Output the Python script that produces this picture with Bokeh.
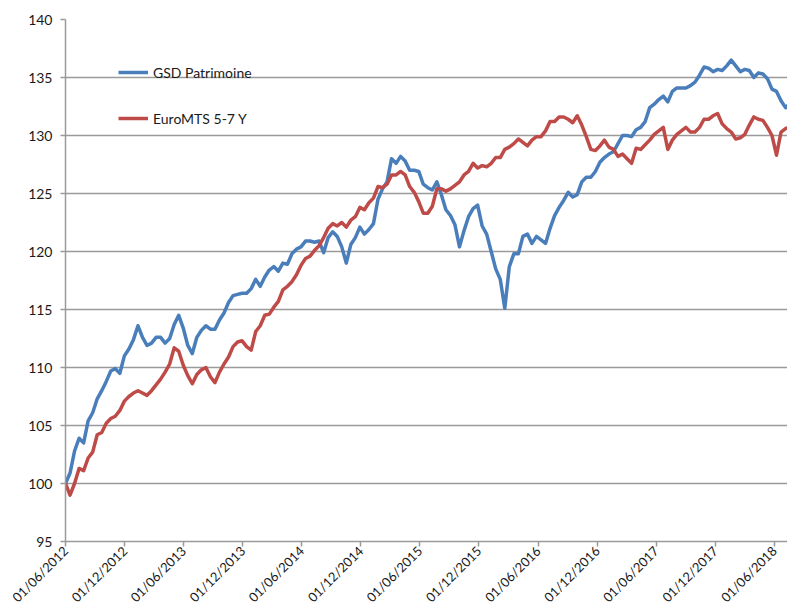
from math import pi
import pandas as pd
from bokeh.plotting import figure
from bokeh.models import (FixedTicker, DatetimeTickFormatter, Legend, LegendItem,
                          Range1d, SingleIntervalTicker)
from bokeh.embed import file_html
from bokeh.resources import INLINE

start_date = "2012-06-01"
step = "14D"
x_end = "2018-07-12"

gsd_patrimoine = [
    100.0, 100.9, 102.8, 103.9, 103.5, 105.4, 106.1, 107.3, 108.0, 108.8,
    109.7, 109.9, 109.5, 111.0, 111.6, 112.4, 113.6, 112.6, 111.9, 112.1,
    112.6, 112.6, 112.1, 112.5, 113.7, 114.5, 113.4, 111.9, 111.2, 112.6,
    113.2, 113.6, 113.3, 113.3, 114.1, 114.7, 115.6, 116.2, 116.3, 116.4,
    116.4, 116.8, 117.6, 117.0, 117.8, 118.4, 118.7, 118.3, 119.0, 118.9,
    119.8, 120.2, 120.4, 120.9, 120.9, 120.8, 120.9, 119.9, 121.2, 121.7,
    121.3, 120.4, 119.0, 120.6, 121.2, 122.1, 121.5, 121.9, 122.4, 124.5,
    125.4, 126.0, 128.0, 127.6, 128.2, 127.8, 127.0, 127.0, 126.9, 125.8,
    125.5, 125.3, 126.0, 124.9, 123.6, 123.1, 122.3, 120.4, 121.8, 123.0,
    123.7, 124.0, 122.2, 121.5, 120.0, 118.5, 117.6, 115.1, 118.7, 119.8,
    119.8, 121.3, 121.5, 120.7, 121.3, 121.0, 120.7, 122.0, 123.1, 123.8,
    124.4, 125.1, 124.7, 124.9, 126.0, 126.4, 126.4, 126.9, 127.7, 128.1,
    128.4, 128.6, 129.3, 130.0, 130.0, 129.9, 130.5, 130.7, 131.2, 132.4,
    132.7, 133.1, 133.4, 132.9, 133.8, 134.1, 134.1, 134.1, 134.3, 134.6,
    135.2, 135.9, 135.8, 135.5, 135.7, 135.6, 136.0, 136.5, 136.0, 135.5,
    135.7, 135.6, 135.0, 135.4, 135.3, 134.9, 134.0, 133.8, 133.0, 132.4,
    132.8,
]

euromts_5_7 = [
    100.0, 99.0, 100.0, 101.3, 101.1, 102.2, 102.7, 104.2, 104.4, 105.2,
    105.6, 105.8, 106.3, 107.1, 107.5, 107.8, 108.0, 107.8, 107.6, 108.0,
    108.5, 109.0, 109.6, 110.3, 111.7, 111.4, 110.2, 109.3, 108.6, 109.4,
    109.8, 110.0, 109.2, 108.7, 109.6, 110.3, 110.9, 111.8, 112.2, 112.3,
    111.8, 111.5, 113.1, 113.6, 114.5, 114.6, 115.2, 115.7, 116.7, 117.0,
    117.4, 118.0, 118.8, 119.4, 119.6, 120.1, 120.5, 121.2, 122.0, 122.4,
    122.2, 122.5, 122.1, 122.7, 123.0, 123.8, 123.6, 124.2, 124.6, 125.6,
    125.5, 125.8, 126.6, 126.6, 126.9, 126.6, 125.6, 125.1, 124.3, 123.3,
    123.3, 123.9, 125.4, 125.4, 125.2, 125.4, 125.7, 126.0, 126.6, 126.9,
    127.6, 127.2, 127.4, 127.3, 127.6, 128.1, 128.1, 128.8, 129.0, 129.3,
    129.7, 129.4, 129.1, 129.6, 129.9, 129.9, 130.4, 131.2, 131.2, 131.6,
    131.6, 131.4, 131.1, 131.7, 130.9, 129.9, 128.8, 128.7, 129.1, 129.6,
    129.0, 128.8, 128.2, 128.4, 128.0, 127.6, 128.9, 128.8, 129.2, 129.6,
    130.1, 130.4, 130.7, 128.8, 129.6, 130.1, 130.4, 130.7, 130.3, 130.3,
    130.7, 131.4, 131.4, 131.7, 131.9, 131.0, 130.6, 130.3, 129.7, 129.8,
    130.1, 130.9, 131.6, 131.4, 131.3, 130.7, 130.0, 128.3, 130.3, 130.6,
    130.7,
]

series_names = ["GSD Patrimoine", "EuroMTS 5-7 Y"]
series_colors = ["#4a7ebb", "#be4b48"]

tick_dates = ["2012-06-01", "2012-12-01", "2013-06-01", "2013-12-01",
              "2014-06-01", "2014-12-01", "2015-06-01", "2015-12-01",
              "2016-06-01", "2016-12-01", "2017-06-01", "2017-12-01",
              "2018-06-01"]
y_min, y_max, y_step = 95, 140, 5

# ---- figure ----
dates = pd.date_range(start_date, periods=len(gsd_patrimoine), freq=step)

FONT = "Lato"
TXT = "#1a1a1a"
GRID = "#9a9a9a"

p = figure(width=787, height=616, x_axis_type="datetime",
           x_range=Range1d(pd.Timestamp(start_date), pd.Timestamp(x_end)),
           y_range=Range1d(y_min, y_max),
           output_backend="svg", toolbar_location=None,
           min_border_left=65, min_border_right=0,
           min_border_top=19, min_border_bottom=75)

p.outline_line_color = None
p.background_fill_color = "white"
p.border_fill_color = "white"

r1 = p.line(dates, gsd_patrimoine, line_color=series_colors[0], line_width=3.5,
            line_join="round")
r2 = p.line(dates, euromts_5_7, line_color=series_colors[1], line_width=3.5,
            line_join="round")

# x axis
tick_ms = [pd.Timestamp(d).value / 1e6 for d in tick_dates]
p.xaxis.ticker = FixedTicker(ticks=tick_ms)
fmt = "%d/%m/%Y"
p.xaxis.formatter = DatetimeTickFormatter(
    milliseconds=fmt, seconds=fmt, minsec=fmt, minutes=fmt, hourmin=fmt,
    hours=fmt, days=fmt, months=fmt, years=fmt)
p.xaxis.major_label_orientation = pi / 4
p.xaxis.major_label_text_font = FONT
p.xaxis.major_label_text_font_size = "13px"
p.xaxis.major_label_text_color = TXT
p.xaxis.major_label_standoff = 2
p.xaxis.axis_line_color = GRID
p.xaxis.axis_line_width = 1.5
p.xaxis.major_tick_line_color = GRID
p.xaxis.major_tick_line_width = 1.5
p.xaxis.major_tick_out = 5
p.xaxis.major_tick_in = 0
p.xaxis.minor_tick_line_color = None

# y axis
p.yaxis.ticker = SingleIntervalTicker(interval=y_step)
p.yaxis.major_label_text_font = FONT
p.yaxis.major_label_text_font_size = "14px"
p.yaxis.major_label_text_color = TXT
p.yaxis.major_label_standoff = 8
p.yaxis.axis_line_color = GRID
p.yaxis.axis_line_width = 1.5
p.yaxis.major_tick_line_color = GRID
p.yaxis.major_tick_line_width = 1.5
p.yaxis.major_tick_out = 5
p.yaxis.major_tick_in = 0
p.yaxis.minor_tick_line_color = None

p.xgrid.grid_line_color = None
p.ygrid.ticker = SingleIntervalTicker(interval=y_step)
p.ygrid.grid_line_color = GRID
p.ygrid.grid_line_width = 1.3

legend = Legend(items=[LegendItem(label=series_names[0], renderers=[r1]),
                       LegendItem(label=series_names[1], renderers=[r2])],
                location=(53, 413), orientation="vertical",
                border_line_color=None, background_fill_alpha=0,
                padding=0, margin=0, spacing=26,
                glyph_width=30, glyph_height=20, label_height=20,
                label_standoff=5, label_text_font=FONT,
                label_text_font_size="14px", label_text_color=TXT)
p.add_layout(legend)

open("out.html", "w").write(file_html(p, INLINE))
